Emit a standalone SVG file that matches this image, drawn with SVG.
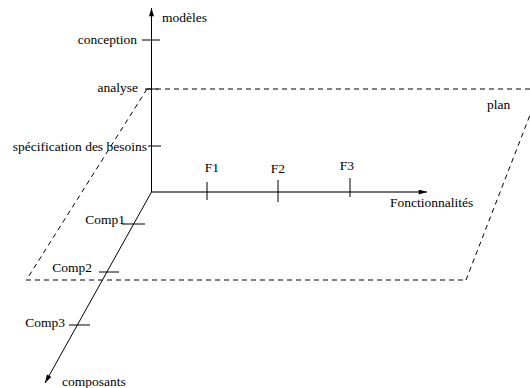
<svg xmlns="http://www.w3.org/2000/svg" width="530" height="388" viewBox="0 0 530 388">
<defs>
<marker id="arr" viewBox="0 0 10 6" refX="10" refY="3" markerWidth="9" markerHeight="5" orient="auto" markerUnits="userSpaceOnUse">
<path d="M0,0 L10,3 L0,6 z" fill="#000"/>
</marker>
<style>
.ax{stroke:#000;stroke-width:1;fill:none}
.hx{stroke:#444;stroke-width:1.4;fill:none}
.tk{stroke:#000;stroke-width:1;fill:none}
.dash{stroke:#000;stroke-width:1;stroke-dasharray:5,4;fill:none}
.e{text-anchor:end}
.m{text-anchor:middle}
</style>
</defs>
<g font-family="Liberation Serif, DejaVu Serif, serif" font-size="13.5" fill="#000">
<g id="plane">
<line class="dash" x1="147" y1="89" x2="530" y2="89"/>
<line class="dash" x1="147" y1="89" x2="27" y2="279"/>
<line class="dash" x1="26" y1="280" x2="466" y2="280"/>
<line class="dash" x1="466" y1="280" x2="530" y2="115"/>
<text x="487" y="109">plan</text>
</g>
<g id="connectors">
<line class="ax" x1="151.5" y1="192" x2="151.5" y2="8" marker-end="url(#arr)"/>
<line class="hx" x1="151.5" y1="192" x2="427" y2="192" marker-end="url(#arr)"/>
<line class="ax" x1="151.5" y1="192" x2="45" y2="383" marker-end="url(#arr)"/>
</g>
<g id="axis-modeles">
<text x="162" y="22">modèles</text>
<line class="tk" x1="142" y1="40" x2="160" y2="40"/>
<text class="e" x="137" y="44">conception</text>
<line class="tk" x1="145" y1="89" x2="158" y2="89"/>
<text class="e" x="138" y="92">analyse</text>
<line class="tk" x1="148" y1="146" x2="161" y2="146"/>
<text class="e" x="147" y="151">spécification des besoins</text>
</g>
<g id="axis-fonctionnalites">
<line class="tk" x1="207" y1="182" x2="207" y2="200"/>
<text class="m" x="212" y="172">F1</text>
<line class="tk" x1="278" y1="180" x2="278" y2="202"/>
<text class="m" x="278" y="173">F2</text>
<line class="tk" x1="350" y1="178" x2="350" y2="197"/>
<text class="m" x="347" y="170">F3</text>
<text x="390" y="207">Fonctionnalités</text>
</g>
<g id="axis-composants">
<line class="tk" x1="122" y1="224" x2="145" y2="224"/>
<text class="e" x="125" y="224">Comp1</text>
<line class="tk" x1="99" y1="272" x2="119" y2="272"/>
<text class="e" x="92" y="272">Comp2</text>
<line class="tk" x1="69" y1="325" x2="90" y2="325"/>
<text class="e" x="65" y="327">Comp3</text>
<text x="62" y="386">composants</text>
</g>
</g>
</svg>
